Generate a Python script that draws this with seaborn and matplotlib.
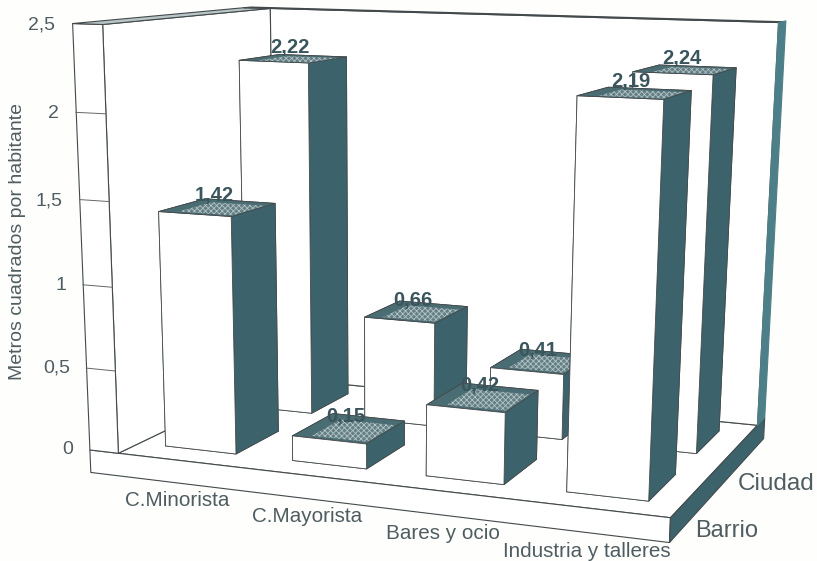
import numpy as np
import matplotlib
matplotlib.use("Agg")
import matplotlib.pyplot as plt
import seaborn as sns
from mpl_toolkits.mplot3d.art3d import Poly3DCollection

categories = ["C.Minorista", "C.Mayorista", "Bares y ocio", "Industria y talleres"]
series = ["Barrio", "Ciudad"]
barrio = [1.42, 0.15, 0.42, 2.19]
ciudad = [2.22, 0.66, 0.41, 2.24]
z_ticks = [0, 0.5, 1, 1.5, 2, 2.5]
z_tick_labels = ["0", "0,5", "1", "1,5", "2", "2,5"]

sns.set_style("white")
plt.rcParams["font.family"] = ["Liberation Sans", "DejaVu Sans"]
plt.rcParams["hatch.linewidth"] = 0.6
TEAL = "#3c636b"; TXT = "#4f5d62"; BG = "#fefefc"; LINE = "#444a4c"

W, H = 817, 561
fig = plt.figure(figsize=(W/100, H/100), dpi=100, facecolor=BG)
ax = fig.add_axes([0, -(W-H)/2/H, 1, W/H], projection="3d", computed_zorder=False)
ax.set_axis_off()
ax.patch.set_visible(False)

X1, Y1, ZT = 4.0, 2.0, 2.5
TX, TY, TZ = 0.23, 0.2, 0.14

def quad(pts, fc, z, ec=LINE, lw=0.8, **kw):
    ax.add_collection3d(Poly3DCollection([pts], facecolors=fc, edgecolors=ec, linewidths=lw, zorder=z, **kw))

quad([(0,0,0),(X1,0,0),(X1,Y1,0),(0,Y1,0)], "white", 1)
quad([(-TX,0,-TZ),(X1,0,-TZ),(X1,0,0),(-TX,0,0)], "white", 1)
quad([(X1,0,-TZ),(X1,Y1+TY,-TZ),(X1,Y1+TY,0),(X1,0,0)], TEAL, 1)
quad([(0,0,0),(0,Y1,0),(0,Y1,ZT),(0,0,ZT)], "white", 1)
quad([(-TX,0,0),(0,0,0),(0,0,ZT),(-TX,0,ZT)], "white", 1)
quad([(-TX,0,ZT),(0,0,ZT),(0,Y1,ZT),(-TX,Y1,ZT)], "#b9c6c8", 1)
quad([(0,Y1,0),(X1,Y1,0),(X1,Y1,ZT),(0,Y1,ZT)], "white", 1)
quad([(-TX,Y1,ZT),(X1,Y1,ZT),(X1,Y1+TY/2,ZT),(-TX,Y1+TY/2,ZT)], TEAL, 1)
quad([(X1,Y1,0),(X1,Y1+TY,0),(X1,Y1+TY,ZT),(X1,Y1,ZT)], "#4d7f88", 1, ec="#4d7f88")
for zt in z_ticks[1:-1]:
    ax.plot([-TX,0,0,X1],[0,0,Y1,Y1],[zt]*4,color="#666",lw=0.7,zorder=1.5)

labels = []
dx, dy = 0.56, 0.54
for j, vals in enumerate([ciudad, barrio]):
    y = 1.23 if j == 0 else 0.23
    for i, v in enumerate(vals):
        x = i + 0.22
        z = 2 + j*10 + i
        ax.bar3d(x, y, 0, dx, dy, v, color=["white","#4a6c73","white","white",TEAL,TEAL],
                 shade=False, edgecolor=LINE, linewidth=0.6, zorder=z)
        quad([(x+dx*.22,y+dy*.08,v),(x+dx*.97,y+dy*.08,v),(x+dx*.97,y+dy*.8,v),(x+dx*.22,y+dy*.8,v)],
             "#627f85", z+0.2, ec="#b4c2c4", lw=0, hatch="xxxxxx")
        labels.append(((x+dx*.45, y+dy*.5, v+0.01), f"{v:.2f}".replace(".", ","),
                       dict(ha="center", va="bottom", fontsize=14.5, fontweight="bold", color="#3a565c", zorder=30+z)))

for t, lab in zip(z_ticks, z_tick_labels):
    labels.append(((-0.36, 0, t-0.012), lab, dict(ha="right", va="center", fontsize=14, color=TXT, zorder=60)))
for i, c in enumerate(categories):
    labels.append(((i+0.46, 0, -0.25), c, dict(ha="center", va="center", fontsize=14.9, color=TXT, zorder=60)))
labels.append(((X1, 0.55, -0.25), series[0], dict(ha="left", va="center", fontsize=17, color=TXT, zorder=60)))
labels.append(((X1, 1.55, -0.26), series[1], dict(ha="left", va="center", fontsize=17.5, color=TXT, zorder=60)))
fig.text(18/W, 1-241/H, "Metros cuadrados por habitante", rotation=90, ha="center", va="center",
         fontsize=14, color=TXT)

ax.apply_aspect()
inv = ax.transData.inverted()
def to2d(u, v):
    return inv.transform((u, H - v))
corr = [((0,0,0),(118,453)),((X1,0,0),(670,517)),((0,Y1,0),(275,377)),((X1,Y1,0),(757,425)),
        ((0,0,ZT),(102,24)),((0,Y1,ZT),(270,8)),((X1,Y1,ZT),(778,22))]
A = []
for (x,y,z),(u,v) in corr:
    a,b = to2d(u,v)
    A.append([x,y,z,1,0,0,0,0,-a*x,-a*y,-a*z,-a])
    A.append([0,0,0,0,x,y,z,1,-b*x,-b*y,-b*z,-b])
P = np.linalg.svd(np.array(A))[2][-1].reshape(3,4)
P = P/(P[2]@np.array([2,1,1,1]))
M = np.vstack([P[0],P[1],[-0.25,0.5,-0.4,0],P[2]])
ax.get_proj = lambda: M
for (x,y,z), s, kw in labels:
    q = P @ np.array([x,y,z,1.0])
    ax.text2D(q[0]/q[2], q[1]/q[2], s, transform=ax.transData, **kw)
fig.savefig("out.png", dpi=100, facecolor=BG)
